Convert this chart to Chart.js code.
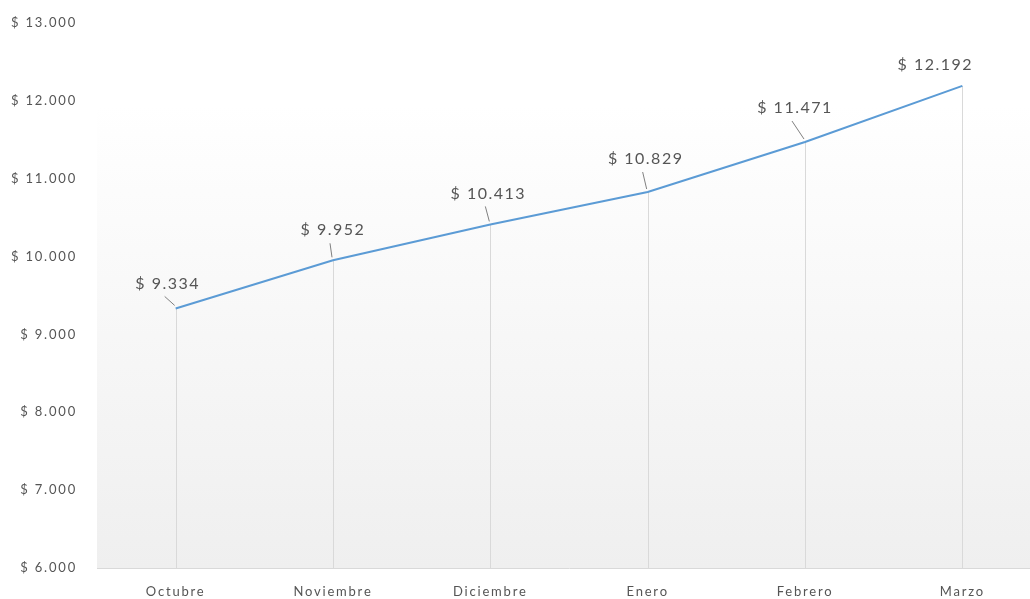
<!DOCTYPE html>
<html>
<head>
<meta charset="utf-8">
<script src="https://cdn.jsdelivr.net/npm/chart.js@4.4.1/dist/chart.umd.min.js"></script>
<style>
  html, body { margin: 0; padding: 0; background: #fff; overflow: hidden; }
  #wrap { position: relative; width: 1045px; height: 599px; }
</style>
</head>
<body>
<div id="wrap"><canvas id="grafikVentas"></canvas></div>
<script>
const meses = ['Octubre', 'Noviembre', 'Diciembre', 'Enero', 'Febrero', 'Marzo'];
const ventas = [9334, 9952, 10413, 10829, 11471, 12192];
const ejeMin = 6000;
const ejeMax = 13000;
const ejePaso = 1000;

// offset of each data label from its point (label centre, px)
const labelOffsets = [[-8, -25], [0, -30], [-2, -31], [-2, -33], [-10, -34], [-27, -21]];

function formatoPeso(v) {
  return '$ ' + String(v).replace(/\B(?=(\d{3})+(?!\d))/g, '.');
}

// the reference text is loosely spaced, so widen it a bit
const espaciado = {
  id: 'espaciado',
  beforeLayout(chart) { chart.ctx.letterSpacing = '1.8px'; },
  beforeDraw(chart) { chart.ctx.letterSpacing = '1.8px'; }
};

const fondoDegradado = {
  id: 'fondoDegradado',
  beforeDraw(chart) {
    const { ctx, chartArea: a } = chart;
    const g = ctx.createLinearGradient(0, a.top, 0, a.bottom);
    g.addColorStop(0, '#ffffff');
    g.addColorStop(0.15, '#ffffff');
    g.addColorStop(1, '#efefef');
    ctx.save();
    ctx.fillStyle = g;
    ctx.fillRect(a.left, a.top, a.right - a.left, a.bottom - a.top);
    ctx.restore();
  }
};

// drop lines from each point to the axis
const lineasCaida = {
  id: 'lineasCaida',
  beforeDatasetsDraw(chart) {
    const { ctx, chartArea: a } = chart;
    const meta = chart.getDatasetMeta(0);
    ctx.save();
    ctx.strokeStyle = '#d9d9d9';
    ctx.lineWidth = 1;
    meta.data.forEach(p => {
      const x = Math.round(p.x) + 0.5;
      ctx.beginPath();
      ctx.moveTo(x, p.y);
      ctx.lineTo(x, a.bottom);
      ctx.stroke();
    });
    ctx.restore();
  }
};

const etiquetasDatos = {
  id: 'etiquetasDatos',
  afterDatasetsDraw(chart) {
    const { ctx } = chart;
    const meta = chart.getDatasetMeta(0);
    const valores = chart.data.datasets[0].data;
    ctx.save();
    ctx.letterSpacing = '1.5px';
    ctx.font = '16px Lato, "Liberation Sans", sans-serif';
    ctx.fillStyle = '#555555';
    ctx.textAlign = 'center';
    ctx.textBaseline = 'middle';
    meta.data.forEach((p, i) => {
      const [dx, dy] = labelOffsets[i];
      const lx = p.x + dx, ly = p.y + dy;
      ctx.fillText(formatoPeso(valores[i]), lx, ly);
      // leader line
      if (i < 5) {
        ctx.strokeStyle = '#808080';
        ctx.lineWidth = 1;
        ctx.beginPath();
        ctx.moveTo(lx - 3, ly + 13);
        ctx.lineTo(p.x - 1, p.y - 3);
        ctx.stroke();
      }
    });
    ctx.restore();
  }
};

new Chart(document.getElementById('grafikVentas'), {
  type: 'line',
  data: {
    labels: meses,
    datasets: [{
      label: 'Ventas',
      data: ventas,
      borderColor: '#5b9bd5',
      borderWidth: 2,
      pointRadius: 0,
      tension: 0,
      fill: false
    }]
  },
  options: {
    responsive: true,
    maintainAspectRatio: false,
    animation: false,
    layout: { padding: { top: 23, right: 4, left: 0, bottom: 0 } },
    plugins: {
      legend: { display: false },
      tooltip: { enabled: false }
    },
    scales: {
      x: {
        offset: true,
        grid: { display: false, drawTicks: false },
        border: { display: true, color: '#d9d9d9', width: 1 },
        ticks: {
          color: '#555555',
          font: { family: 'Lato, "Liberation Sans", sans-serif', size: 13 },
          padding: 16,
          maxRotation: 0
        },
        afterFit(scale) { scale.height = 31; }
      },
      y: {
        min: ejeMin,
        max: ejeMax,
        grid: { display: false, drawTicks: false },
        border: { display: false },
        ticks: {
          stepSize: ejePaso,
          color: '#555555',
          font: { family: 'Lato, "Liberation Sans", sans-serif', size: 13 },
          padding: 20,
          callback: v => formatoPeso(v)
        },
        afterFit(scale) {
          scale.width = 97;
          scale.paddingTop = 0;
          scale.paddingBottom = 0;
        }
      }
    }
  },
  plugins: [espaciado, fondoDegradado, lineasCaida, etiquetasDatos]
});
</script>
</body>
</html>
